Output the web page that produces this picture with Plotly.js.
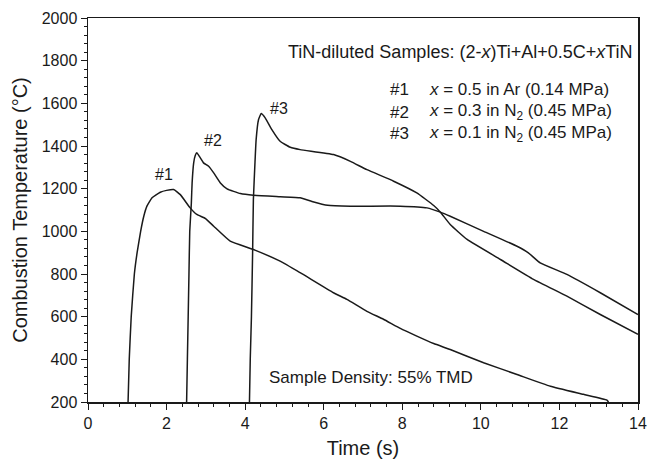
<!DOCTYPE html>
<html>
<head>
<meta charset="utf-8">
<script src="https://cdn.plot.ly/plotly-3.0.1.min.js"></script>
<style>html,body{margin:0;padding:0;background:#fff;}#chart{width:649px;height:459px;}</style>
</head>
<body>
<div id="chart"></div>
<script>
// Sample #1: x = 0.5 in Ar (0.14 MPa)
const time1 = [1.02, 1.05, 1.10, 1.18, 1.25, 1.34, 1.42, 1.50, 1.63, 1.84, 2.00, 2.18, 2.35, 2.60, 2.77, 2.99, 3.20, 3.62, 4.21, 4.89, 5.40, 6.25, 6.59, 7.10, 7.52, 7.95, 8.37, 8.80, 9.22, 10.07, 10.92, 11.77, 12.61, 13.21, 13.25];
const temp1 = [200, 400, 600, 800, 900, 1000, 1071, 1118, 1157, 1183, 1192, 1196, 1172, 1110, 1079, 1060, 1024, 954, 915, 860, 806, 712, 681, 625, 588, 545, 509, 474, 446, 384, 329, 274, 236, 209, 200];
// Sample #2: x = 0.3 in N2 (0.45 MPa)
const time2 = [2.51, 2.53, 2.55, 2.57, 2.59, 2.63, 2.65, 2.69, 2.73, 2.77, 2.86, 2.94, 3.07, 3.20, 3.37, 3.54, 3.88, 4.21, 4.89, 5.40, 5.70, 6.10, 6.68, 7.95, 8.63, 8.97, 9.22, 10.07, 10.92, 11.21, 11.51, 12.19, 13.04, 14.00];
const temp2 = [200, 400, 600, 800, 1000, 1130, 1227, 1321, 1355, 1368, 1344, 1321, 1305, 1274, 1227, 1199, 1177, 1169, 1162, 1157, 1140, 1122, 1118, 1118, 1110, 1090, 1071, 1000, 930, 899, 852, 798, 712, 610];
// Sample #3: x = 0.1 in N2 (0.45 MPa)
const time3 = [4.11, 4.13, 4.16, 4.19, 4.21, 4.25, 4.28, 4.34, 4.41, 4.51, 4.68, 4.89, 5.15, 5.40, 6.25, 6.68, 7.10, 7.78, 8.37, 8.80, 8.97, 9.22, 9.65, 10.50, 11.34, 12.19, 13.04, 14.00];
const temp3 = [200, 400, 600, 900, 1149, 1320, 1430, 1523, 1552, 1532, 1477, 1422, 1394, 1383, 1360, 1328, 1289, 1235, 1180, 1121, 1090, 1032, 962, 868, 775, 696, 610, 517];

const xTicks = [0, 2, 4, 6, 8, 10, 12, 14];
const yTicks = [200, 400, 600, 800, 1000, 1200, 1400, 1600, 1800, 2000];

const FONT = 'Liberation Sans, Arial, Helvetica, sans-serif';
const lineStyle = {color: '#1a1a1a', width: 1.5, shape: 'spline', smoothing: 0.4};

const traces = [
  {x: time1, y: temp1, mode: 'lines', line: lineStyle, name: '#1', hoverinfo: 'x+y'},
  {x: time2, y: temp2, mode: 'lines', line: lineStyle, name: '#2', hoverinfo: 'x+y'},
  {x: time3, y: temp3, mode: 'lines', line: lineStyle, name: '#3', hoverinfo: 'x+y'}
];

const ann = (text, x, y, xanchor, size) => ({
  text: text, x: x, y: y, xref: 'x', yref: 'y', xanchor: xanchor, yanchor: 'middle',
  showarrow: false, font: {family: FONT, size: size, color: '#1a1a1a'}
});

const layout = {
  width: 649, height: 459,
  margin: {l: 88, r: 11, t: 18, b: 57},
  paper_bgcolor: '#fff', plot_bgcolor: '#fff',
  showlegend: false,
  font: {family: FONT, color: '#1a1a1a'},
  xaxis: {
    range: [0, 14], tickvals: xTicks, ticktext: xTicks.map(String),
    showgrid: false, zeroline: false,
    showline: true, mirror: true, linecolor: '#1a1a1a', linewidth: 1.5,
    ticks: 'outside', ticklen: 6, tickwidth: 1, tickcolor: '#1a1a1a',
    minor: {dtick: 0.4, tick0: 0, ticks: 'outside', ticklen: 3, tickwidth: 1, tickcolor: '#1a1a1a', showgrid: false},
    tickfont: {family: FONT, size: 16, color: '#1a1a1a'},
    title: {text: 'Time (s)', font: {family: FONT, size: 20, color: '#1a1a1a'}, standoff: 13}
  },
  yaxis: {
    range: [200, 2000], tickvals: yTicks, ticktext: yTicks.map(String),
    showgrid: false, zeroline: false,
    showline: true, mirror: true, linecolor: '#1a1a1a', linewidth: 1.5,
    ticks: 'outside', ticklen: 6, tickwidth: 1, tickcolor: '#1a1a1a',
    minor: {dtick: 40, tick0: 200, ticks: 'outside', ticklen: 3, tickwidth: 1, tickcolor: '#1a1a1a', showgrid: false},
    tickfont: {family: FONT, size: 16, color: '#1a1a1a'},
    title: {text: 'Combustion Temperature (\u00B0C)', font: {family: FONT, size: 20, color: '#1a1a1a'}, standoff: 8}
  },
  annotations: [
    ann('TiN-diluted Samples: (2-<i>x</i>)Ti+Al+0.5C+<i>x</i>TiN', 13.92, 1841, 'right', 18),
    ann('#1', 7.64, 1664, 'left', 17),
    ann('#2', 7.64, 1558, 'left', 17),
    ann('#3', 7.64, 1457, 'left', 17),
    ann('<i>x</i> = 0.5 in Ar (0.14 MPa)', 8.63, 1664, 'left', 17),
    ann('<i>x</i> = 0.3 in N<sub>2</sub> (0.45 MPa)', 8.63, 1558, 'left', 17),
    ann('<i>x</i> = 0.1 in N<sub>2</sub> (0.45 MPa)', 8.63, 1457, 'left', 17),
    ann('#1', 1.93, 1266, 'center', 16),
    ann('#2', 3.19, 1427, 'center', 16),
    ann('#3', 4.87, 1578, 'center', 16),
    ann('Sample Density: 55% TMD', 4.56, 315, 'left', 17)
  ]
};

Plotly.newPlot('chart', traces, layout, {staticPlot: true, displayModeBar: false});
</script>
</body>
</html>
